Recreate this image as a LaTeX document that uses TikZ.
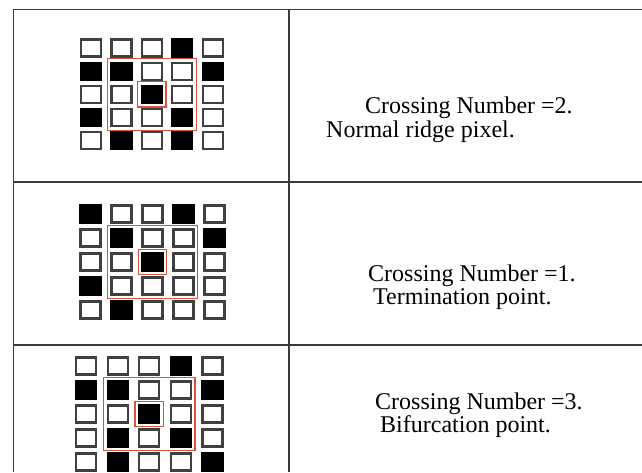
\documentclass[tikz,border=0pt]{standalone}
\usepackage{fontspec}
\setmainfont{Liberation Serif}
\usepackage{xcolor}
\definecolor{ringred}{HTML}{D9553A}
\definecolor{rulegray}{HTML}{3A3A3A}
\usetikzlibrary{fit}

\begin{document}
\begin{tikzpicture}[x=1pt, y=-1pt,
  px0/.style={draw=black!75, line width=2.2pt, fill=white, minimum width=20pt, minimum height=17pt, inner sep=0pt},
  px1/.style={px0, draw=black, fill=black},
  ring/.style={draw=ringred, line width=1.3pt, inner sep=3pt},
  rule/.style={draw=rulegray, line width=1.1pt},
  caption/.style={anchor=base west, font=\fontsize{24}{28}\selectfont, inner sep=0pt}]
  \useasboundingbox (0,0) rectangle (642,472);

  % table frame
  \draw[rule] (13.5,472) -- (13.5,9.5) -- (642,9.5);
  \draw[rule] (289,9.5) -- (289,472);
  \draw[rule] (13.5,182) -- (642,182);
  \draw[rule] (13.5,345) -- (642,345);

  % normal ridge pixel
  \foreach \row [count=\r] in {{0,0,0,1,0},{1,1,0,0,1},{0,0,1,0,0},{1,0,0,1,0},{0,1,0,1,0}}
    \foreach \v [count=\c] in \row
      \node[px\v] (a-\r-\c) at ({91+30.4*(\c-1)}, {48+23.2*(\r-1)}) {};
  \node[ring, fit=(a-2-2)(a-4-4)] (a-win) {};
  \node[ring, fit=(a-3-3)] (a-mid) {};
  \node[caption] (cn1) at (365,113) {Crossing Number =2.};
  \node[caption] (kind1) at (326,137) {Normal ridge pixel.};

  % termination point
  \foreach \row [count=\r] in {{1,0,0,1,0},{0,1,0,0,1},{0,0,1,0,0},{1,0,0,0,0},{0,1,0,0,0}}
    \foreach \v [count=\c] in \row
      \node[px\v] (b-\r-\c) at ({90.5+31*(\c-1)}, {214+24*(\r-1)}) {};
  \node[ring, fit=(b-2-2)(b-4-4)] (b-win) {};
  \node[ring, fit=(b-3-3)] (b-mid) {};
  \node[caption] (cn2) at (368,281) {Crossing Number =1.};
  \node[caption] (kind2) at (373,304) {Termination point.};

  % bifurcation point
  \foreach \row [count=\r] in {{0,0,0,1,0},{1,1,0,0,1},{0,0,1,0,0},{0,1,0,1,0},{0,1,0,0,1}}
    \foreach \v [count=\c] in \row
      \node[px\v] (c-\r-\c) at ({86+31.6*(\c-1)}, {366+24*(\r-1)}) {};
  \node[ring, fit=(c-2-2)(c-4-4)] (c-win) {};
  \node[ring, fit=(c-3-3)] (c-mid) {};
  \node[caption] (cn3) at (375,409) {Crossing Number =3.};
  \node[caption] (kind3) at (380,432) {Bifurcation point.};
\end{tikzpicture}
\end{document}
